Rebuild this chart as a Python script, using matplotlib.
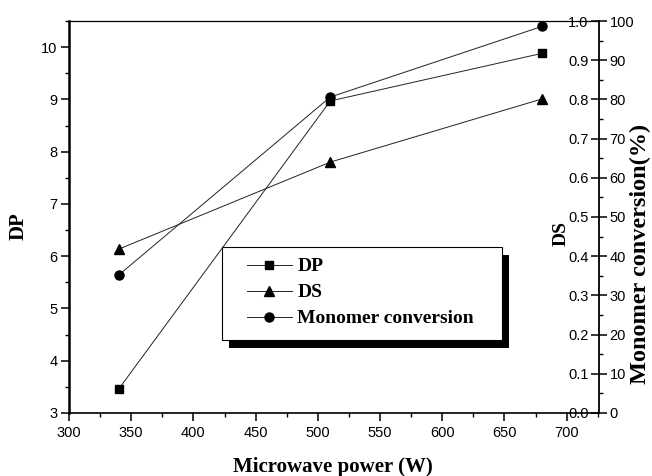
import matplotlib
matplotlib.use("Agg")
import matplotlib.pyplot as plt
from matplotlib.patches import Rectangle
from matplotlib.ticker import MultipleLocator
from matplotlib.transforms import IdentityTransform

# data
power = [340, 510, 680]
dp = [3.46, 8.97, 9.88]
ds = [0.418, 0.640, 0.801]
conversion = [35.2, 80.6, 98.6]

ds_ticks = [0.0, 0.1, 0.2, 0.3, 0.4, 0.5, 0.6, 0.7, 0.8, 0.9, 1.0]
conv_ticks = [0, 10, 20, 30, 40, 50, 60, 70, 80, 90, 100]

sans = "Liberation Sans"
serif = "Liberation Serif"
plt.rcParams["font.family"] = sans

fig = plt.figure(figsize=(6.52, 4.76), dpi=100)
ax = fig.add_axes([69 / 652, 63 / 476, 530 / 652, 392 / 476])
ax2 = ax.twinx()
ax3 = ax.twinx()

lc = "#222222"
l1, = ax.plot(power, dp, color=lc, lw=0.7, marker="s", ms=5.8, mfc="k", mec="k", label="DP")
l2, = ax2.plot(power, ds, color=lc, lw=0.7, marker="^", ms=7, mfc="k", mec="k", label="DS")
l3, = ax3.plot(power, conversion, color=lc, lw=0.7, marker="o", ms=6.5, mfc="k", mec="k",
               label="Monomer conversion")

# left DP axis
ax.set_xlim(300, 726)
ax.set_ylim(3, 10.5)
ax.xaxis.set_major_locator(MultipleLocator(50))
ax.xaxis.set_minor_locator(MultipleLocator(25))
ax.yaxis.set_major_locator(MultipleLocator(1))
ax.yaxis.set_minor_locator(MultipleLocator(0.5))
ax.tick_params(which="major", direction="out", length=5.8, width=1.1, labelsize=10.5, pad=2.5)
ax.tick_params(which="minor", direction="out", length=3, width=1.0)
ax.tick_params(axis="x", pad=3.5)
ax.tick_params(axis="y", right=False, which="both")
ax.tick_params(axis="x", top=False, which="both")
ax.spines["left"].set_linewidth(1.8)
ax.spines["bottom"].set_linewidth(1.2)
ax.spines["top"].set_linewidth(0.9)
ax.spines["right"].set_visible(False)

# DS axis, labels drawn inside the frame
ax2.set_ylim(0, 1.0)
ax2.set_yticks(ds_ticks, labels=["%.1f" % v for v in ds_ticks], ha="right")
ax2.tick_params(axis="y", direction="in", length=5.5, width=1.1, labelsize=10.5, pad=-7.5)
for s in ax2.spines.values():
    s.set_visible(False)

# monomer conversion axis
ax3.set_ylim(0, 100)
ax3.set_yticks(conv_ticks)
ax3.yaxis.set_minor_locator(MultipleLocator(5))
ax3.tick_params(axis="y", which="major", direction="out", length=5.5, width=1.1, labelsize=10.5, pad=2)
ax3.tick_params(axis="y", which="minor", direction="out", length=3, width=1.0)
for k, s in ax3.spines.items():
    s.set_visible(k == "right")
ax3.spines["right"].set_linewidth(1.3)

# axis titles
fig.text(19 / 652, 1 - 226 / 476, "DP", rotation=90, ha="center", va="center",
         fontsize=15, fontweight="bold", family=serif)
fig.text(561 / 652, 1 - 233 / 476, "DS", rotation=90, ha="center", va="center",
         fontsize=14, fontweight="bold", family=serif)
fig.text(640 / 652, 1 - 254 / 476, "Monomer conversion(%)", rotation=90, ha="center", va="center",
         fontsize=17.5, fontweight="bold", family=serif)
fig.text(333 / 652, 1 - 467 / 476, "Microwave power (W)", ha="center", va="center",
         fontsize=15, fontweight="bold", family=serif)

leg = ax3.legend(handles=[l1, l2, l3], loc="upper left", bbox_to_anchor=(0.315, 0.4235),
                 borderaxespad=0, frameon=False, handlelength=2.3, borderpad=0.56,
                 labelspacing=0.43, handletextpad=0.3,
                 prop={"family": serif, "weight": "bold", "size": 14})
leg.set_zorder(6)

# frame is wider than the legend box, with a heavy black drop shadow
fig.canvas.draw()
bb = leg.get_window_extent()
fx, fy, fw, fh = bb.x0 - 14, bb.y0 - 2, bb.width + 31, bb.height + 2
shadow = Rectangle((fx + 7, fy - 8), fw, fh, transform=IdentityTransform(),
                   facecolor="k", edgecolor="none", zorder=5.4)
frame = Rectangle((fx, fy), fw, fh, transform=IdentityTransform(),
                  facecolor="white", edgecolor="k", lw=0.8, zorder=5.5)
ax3.add_artist(shadow)
ax3.add_artist(frame)

fig.savefig("out.png", dpi=100)
